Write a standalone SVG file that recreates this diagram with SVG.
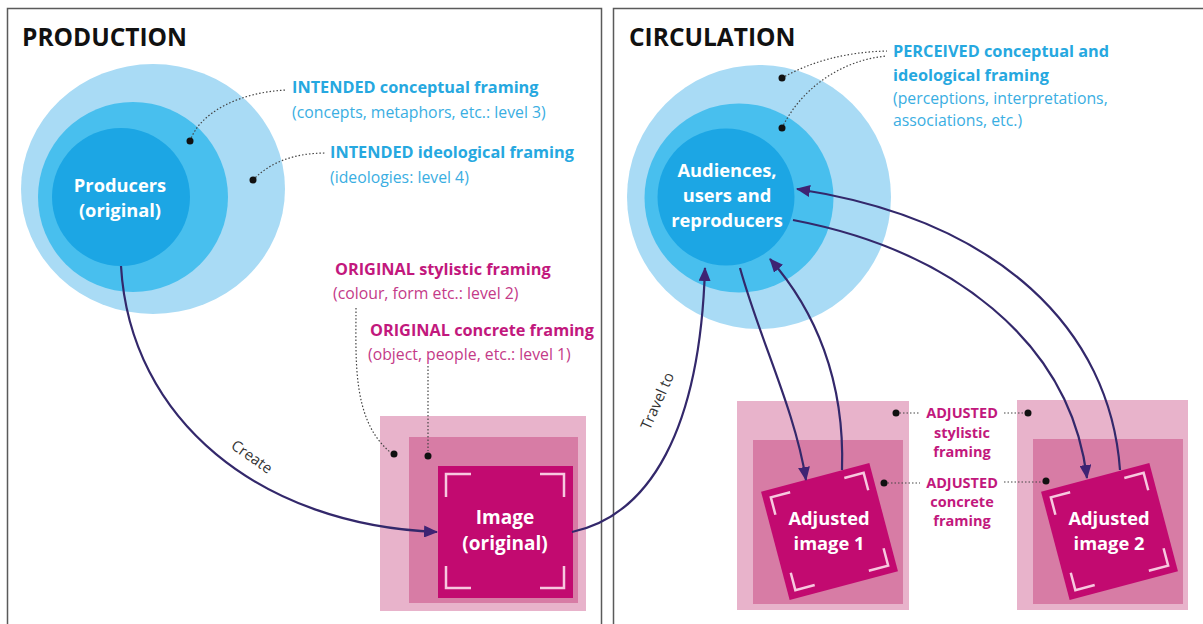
<svg xmlns="http://www.w3.org/2000/svg" width="1203" height="624" viewBox="0 0 1203 624">
<style>
.panel{fill:#fff;stroke:#5a5a5a;stroke-width:1.5}
.title{font-family:"Open Sans",sans-serif;font-weight:700;font-size:24.5px;fill:#111}
.node{font-family:"Open Sans",sans-serif;font-weight:700;fill:#fff;text-anchor:middle}
.cb{font-family:"Open Sans",sans-serif;font-weight:700;font-size:16.3px;fill:#26a8e0}
.cr{font-family:"Open Sans",sans-serif;font-weight:400;font-size:15.8px;fill:#3aaee2}
.mb{font-family:"Open Sans",sans-serif;font-weight:700;font-size:16.3px;fill:#c2187d}
.mr{font-family:"Open Sans",sans-serif;font-weight:400;font-size:15.8px;fill:#c43a88}
.adj{font-family:"Open Sans",sans-serif;font-weight:700;font-size:14.5px;fill:#c2187d;text-anchor:middle}
.lab{font-family:"Open Sans",sans-serif;font-weight:400;font-size:15px;fill:#333}
.c1{fill:#a9dbf5}.c2{fill:#48bfee}.c3{fill:#1ca6e4}
.p1{fill:#e8b3cb}.p2{fill:#d77ca5}.p3{fill:#c20a70}
.br{fill:none;stroke:#f7c8df;stroke-width:2.5}
.lead{fill:none;stroke:#444;stroke-width:1.2;stroke-dasharray:1.5 2}
.dot{fill:#111}
.conn{fill:none;stroke:#33286b;stroke-width:2.2}
</style>
<defs>
<marker id="arr" viewBox="0 0 14 12" refX="13" refY="6" markerWidth="14" markerHeight="12" markerUnits="userSpaceOnUse" orient="auto">
<path d="M0,0 L14,6 L0,12 Z" fill="#3e2373"/>
</marker>
</defs>
<rect width="1203" height="624" fill="#fff"/>
<rect class="panel" x="7.5" y="8.5" width="594" height="640"/>
<rect class="panel" x="613.5" y="8.5" width="620" height="640"/>
<text class="title" x="22" y="46">PRODUCTION</text>
<text class="title" x="629" y="46">CIRCULATION</text>

<g id="producers">
<ellipse class="c1" cx="153" cy="189" rx="132" ry="125"/>
<circle class="c2" cx="133" cy="197" r="95"/>
<circle class="c3" cx="121" cy="197" r="69"/>
<text class="node" font-size="18.3" x="120" y="192">Producers</text>
<text class="node" font-size="18.3" x="120" y="217">(original)</text>
</g>

<g id="intended-conceptual">
<path class="lead" d="M190,141 C200,112 240,92 287,90"/>
<circle class="dot" cx="190" cy="141" r="3.5"/>
<text class="cb" x="292" y="93">INTENDED conceptual framing</text>
<text class="cr" x="292" y="118">(concepts, metaphors, etc.: level 3)</text>
</g>
<g id="intended-ideological">
<path class="lead" d="M253,180 C270,162 295,153 326,153"/>
<circle class="dot" cx="253" cy="180" r="3.5"/>
<text class="cb" x="330" y="158">INTENDED ideological framing</text>
<text class="cr" x="330" y="183">(ideologies: level 4)</text>
</g>

<g id="image-original">
<rect class="p1" x="380" y="416" width="206" height="195"/>
<rect class="p2" x="409" y="437" width="169" height="166"/>
<rect class="p3" x="438" y="466" width="135" height="132"/>
<path class="br" d="M446,497 V474 H471 M540,474 H564 V497 M446,566 V588 H471 M540,588 H564 V566"/>
<text class="node" font-size="19" x="505" y="524">Image</text>
<text class="node" font-size="19" x="505" y="550">(original)</text>
</g>

<g id="original-stylistic">
<text class="mb" x="335" y="275">ORIGINAL stylistic framing</text>
<text class="mr" x="333" y="299">(colour, form etc.: level 2)</text>
<path class="lead" d="M356,308 C356,360 352,420 390,452"/>
<circle class="dot" cx="394" cy="454" r="3.5"/>
</g>
<g id="original-concrete">
<text class="mb" x="370" y="336">ORIGINAL concrete framing</text>
<text class="mr" x="368" y="360">(object, people, etc.: level 1)</text>
<path class="lead" d="M428,366 V451" stroke="#777"/>
<circle class="dot" cx="428" cy="456" r="3.5"/>
</g>

<g id="audiences">
<circle class="c1" cx="759" cy="197" r="132"/>
<circle class="c2" cx="739" cy="198" r="94.5"/>
<circle class="c3" cx="726" cy="197" r="68.5"/>
<text class="node" font-size="18.3" x="727" y="177">Audiences,</text>
<text class="node" font-size="18.3" x="727" y="202">users and</text>
<text class="node" font-size="18.3" x="727" y="227">reproducers</text>
</g>

<g id="perceived">
<path class="lead" d="M782,78 C810,62 845,52 887,51"/>
<path class="lead" d="M782,128 C800,90 840,60 887,56"/>
<circle class="dot" cx="782" cy="78" r="3.5"/>
<circle class="dot" cx="782" cy="128" r="3.5"/>
<text class="cb" x="893" y="57">PERCEIVED conceptual and</text>
<text class="cb" x="893" y="81">ideological framing</text>
<text class="cr" x="893" y="104">(perceptions, interpretations,</text>
<text class="cr" x="893" y="126">associations, etc.)</text>
</g>

<g id="adjusted-image-1">
<rect class="p1" x="737" y="401" width="172" height="209"/>
<rect class="p2" x="753" y="440" width="150" height="164"/>
<g transform="translate(829.5,531.5) rotate(-14.8)">
<rect class="p3" x="-56" y="-56" width="112" height="112"/>
<path class="br" d="M-48,-30 V-48 H-28 M28,-48 H48 V-30 M-48,30 V48 H-28 M28,48 H48 V30"/>
</g>
<text class="node" font-size="18.3" x="829" y="525">Adjusted</text>
<text class="node" font-size="18.3" x="829" y="550">image 1</text>
</g>

<g id="adjusted-image-2">
<rect class="p1" x="1017" y="400" width="171" height="210"/>
<rect class="p2" x="1033" y="439" width="150" height="165"/>
<g transform="translate(1109.5,531.5) rotate(-14.8)">
<rect class="p3" x="-56" y="-56" width="112" height="112"/>
<path class="br" d="M-48,-30 V-48 H-28 M28,-48 H48 V-30 M-48,30 V48 H-28 M28,48 H48 V30"/>
</g>
<text class="node" font-size="18.3" x="1109" y="525">Adjusted</text>
<text class="node" font-size="18.3" x="1109" y="550">image 2</text>
</g>

<g id="adjusted-stylistic">
<path class="lead" d="M896,413 H920 M1004,413 H1028"/>
<circle class="dot" cx="896" cy="413" r="3.5"/>
<circle class="dot" cx="1028" cy="413" r="3.5"/>
<text class="adj" x="962" y="418">ADJUSTED</text>
<text class="adj" x="962" y="438">stylistic</text>
<text class="adj" x="962" y="457">framing</text>
</g>
<g id="adjusted-concrete">
<path class="lead" d="M884,483 H920 M1004,482 H1046"/>
<circle class="dot" cx="884" cy="483" r="3.5"/>
<circle class="dot" cx="1046" cy="481" r="3.5"/>
<text class="adj" x="962" y="488">ADJUSTED</text>
<text class="adj" x="962" y="507">concrete</text>
<text class="adj" x="962" y="526">framing</text>
</g>

<g id="connectors">
<path class="conn" d="M121,266 C130,420 260,525 437,532" marker-end="url(#arr)"/>
<text class="lab" transform="translate(249,461) rotate(35)" text-anchor="middle">Create</text>
<path class="conn" d="M572,532 C650,515 700,430 705,268" marker-end="url(#arr)"/>
<text class="lab" transform="translate(662,403) rotate(-66)" text-anchor="middle">Travel to</text>
<path class="conn" d="M740,268 C760,340 795,410 806,480" marker-end="url(#arr)"/>
<path class="conn" d="M842,470 C845,380 815,310 770,259" marker-end="url(#arr)"/>
<path class="conn" d="M793,220 C950,250 1070,340 1087,478" marker-end="url(#arr)"/>
<path class="conn" d="M1120,470 C1110,330 1000,220 797,189" marker-end="url(#arr)"/>
</g>
</svg>
